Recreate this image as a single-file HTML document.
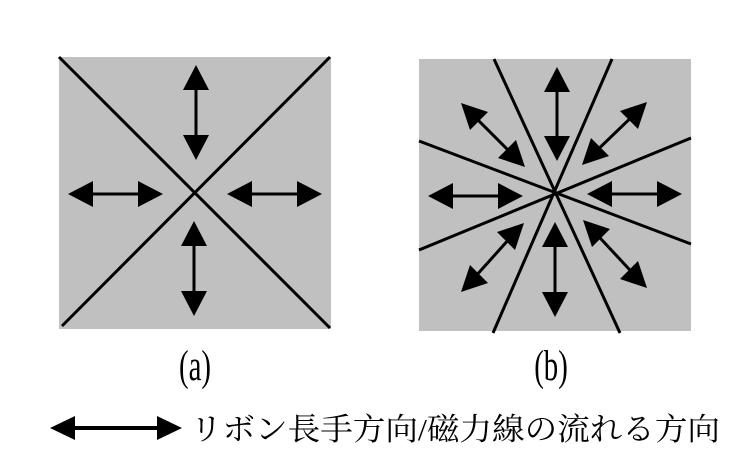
<!DOCTYPE html>
<html><head><meta charset="utf-8"><style>
html,body{margin:0;padding:0;background:#fff;}
svg{display:block;}
.lab{font-family:"Liberation Serif","DejaVu Serif",serif;font-size:36px;}
.leg{font-family:"Liberation Serif","Noto Serif CJK SC","DejaVu Serif",serif;font-size:31px;}
</style></head><body>
<svg width="750" height="472" viewBox="0 0 750 472" xmlns="http://www.w3.org/2000/svg">
<rect x="59" y="57" width="272" height="272" fill="#c0c0c0"/>
<g stroke="#000" stroke-width="3">
<line x1="59" y1="57" x2="330" y2="328"/>
<line x1="330" y1="57" x2="62" y2="326"/>
<line x1="196" y1="68" x2="196" y2="157"/>
<line x1="194" y1="224" x2="194" y2="313"/>
<line x1="71" y1="194" x2="160" y2="194"/>
<line x1="230" y1="194" x2="319" y2="194"/>
</g>
<g fill="#000">
<polygon points="196,65 183,90 209,90"/>
<polygon points="196,160 183,135 209,135"/>
<polygon points="194,221 181,246 207,246"/>
<polygon points="194,316 181,291 207,291"/>
<polygon points="68,194 93,181 93,207"/>
<polygon points="163,194 138,181 138,207"/>
<polygon points="227,194 252,181 252,207"/>
<polygon points="322,194 297,181 297,207"/>
</g>
<rect x="419" y="59" width="272" height="272" fill="#c0c0c0"/>
<g stroke="#000" stroke-width="3">
<line x1="494" y1="59" x2="620" y2="333"/>
<line x1="612" y1="59" x2="493" y2="333"/>
<line x1="419" y1="141" x2="691" y2="244"/>
<line x1="691" y1="138" x2="419" y2="250"/>
<line x1="557" y1="70" x2="557" y2="158"/>
<line x1="555" y1="225" x2="555" y2="314"/>
<line x1="431" y1="196" x2="520" y2="196"/>
<line x1="590" y1="194" x2="679" y2="194"/>
<line x1="466" y1="108" x2="520" y2="162"/>
<line x1="642" y1="107" x2="587" y2="160"/>
<line x1="519" y1="228" x2="466" y2="287"/>
<line x1="588" y1="225" x2="642" y2="283"/>
</g>
<g fill="#000">
<polygon points="557,67 544,92 570,92"/>
<polygon points="557,161 544,136 570,136"/>
<polygon points="555,222 542,247 568,247"/>
<polygon points="555,317 542,292 568,292"/>
<polygon points="428,196 453,183 453,209"/>
<polygon points="523,196 498,183 498,209"/>
<polygon points="587,194 612,181 612,207"/>
<polygon points="682,194 657,181 657,207"/>
<polygon points="461,103 488,112 470,130"/>
<polygon points="525,167 498,158 516,140"/>
<polygon points="647,102 638,129 620,111"/>
<polygon points="582,165 591,138 609,156"/>
<polygon points="524,223 515,250 497,232"/>
<polygon points="461,292 470,265 488,283"/>
<polygon points="583,220 610,229 592,247"/>
<polygon points="647,288 620,279 638,261"/>
</g>
<g transform="translate(195,380) scale(0.8,1.2)"><text class="lab" x="0" y="0" text-anchor="middle">(a)</text></g>
<g transform="translate(551,380) scale(0.8,1.2)"><text class="lab" x="0" y="0" text-anchor="middle">(b)</text></g>
<line x1="70" y1="428" x2="162" y2="428" stroke="#000" stroke-width="4"/>
<polygon points="50,428 75,416 75,440" fill="#000"/>
<polygon points="182,428 157,416 157,440" fill="#000"/>
<text class="leg" x="190" y="440" textLength="530" lengthAdjust="spacingAndGlyphs">リボン長手方向/磁力線の流れる方向</text>
</svg>
</body></html>
